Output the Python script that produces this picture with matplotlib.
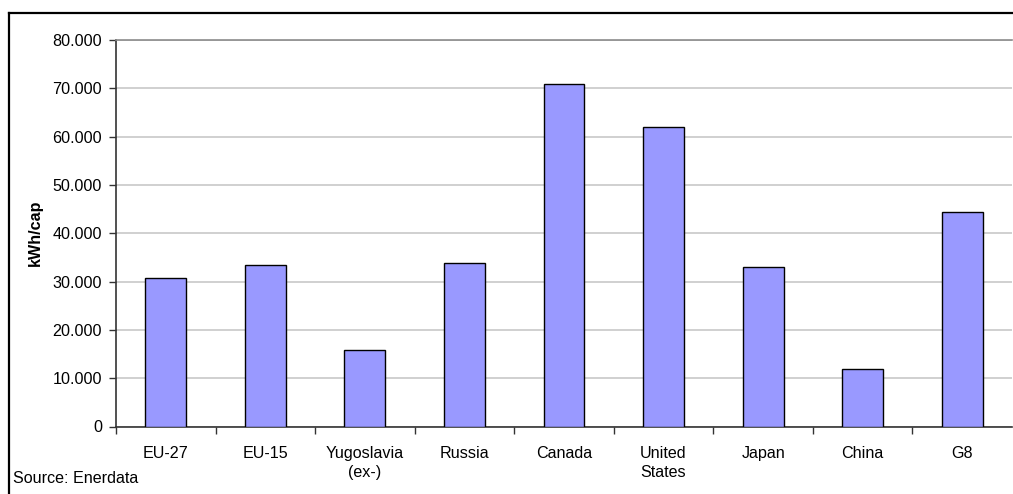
import matplotlib
matplotlib.use("Agg")
import matplotlib.pyplot as plt
from matplotlib.lines import Line2D
import numpy as np

categories = ["EU-27", "EU-15", "Yugoslavia\n(ex-)", "Russia", "Canada",
              "United\nStates", "Japan", "China", "G8"]
values = [30.8, 33.4, 15.8, 33.9, 70.8, 61.9, 33.1, 12.0, 44.5]
yticks = [0, 10, 20, 30, 40, 50, 60, 70, 80]
ytick_labels = ["0", "10.000", "20.000", "30.000", "40.000",
                "50.000", "60.000", "70.000", "80.000"]

plt.rcParams["font.family"] = ["Liberation Sans", "DejaVu Sans"]

fig = plt.figure(figsize=(10.13, 4.94), dpi=100)
ax = fig.add_axes([116 / 1013, 1 - 426.5 / 494, 896 / 1013, 386.5 / 494])

x = np.arange(len(categories))
ax.bar(x, values, width=0.41, color="#9999FF", edgecolor="black",
       linewidth=1.0, zorder=3)

ax.set_xlim(-0.5, len(categories) - 0.5)
ax.set_ylim(0, 80)
ax.set_yticks(yticks)
ax.set_yticklabels(ytick_labels, fontsize=11.6)
ax.set_xticks(x)
ax.set_xticklabels(categories, fontsize=11.6, linespacing=1.35)
ax.tick_params(axis="x", length=0, pad=14)
ax.set_xticks(np.arange(len(categories)) - 0.5, minor=True)
ax.tick_params(axis="x", which="minor", length=5, width=1, color="#333333")
ax.tick_params(axis="y", length=5, width=1, color="#333333", pad=5)

ax.yaxis.grid(True, color="#c8c8c8", linewidth=1.2, zorder=0)
ax.set_axisbelow(True)
ax.spines["right"].set_visible(False)
ax.spines["top"].set_color("#8c8c8c")
ax.spines["top"].set_linewidth(1.2)
for s in ["left", "bottom"]:
    ax.spines[s].set_color("#333333")
    ax.spines[s].set_linewidth(1.2)

fig.text(35 / 1013, 1 - 233 / 494, "kWh/cap", fontsize=11.6, fontweight="bold",
         rotation=90, va="center", ha="center")

fig.text(13 / 1013, 1 - 478 / 494, "Source: Enerdata", fontsize=11.6,
         va="center", ha="left")

# outer frame (cropped on right and bottom)
fig.add_artist(Line2D([9 / 1013, 1], [1 - 13 / 494, 1 - 13 / 494],
                      transform=fig.transFigure, color="black", linewidth=1.6))
fig.add_artist(Line2D([9 / 1013, 9 / 1013], [0, 1 - 13 / 494],
                      transform=fig.transFigure, color="black", linewidth=1.6))

fig.savefig("out.png", dpi=100)
